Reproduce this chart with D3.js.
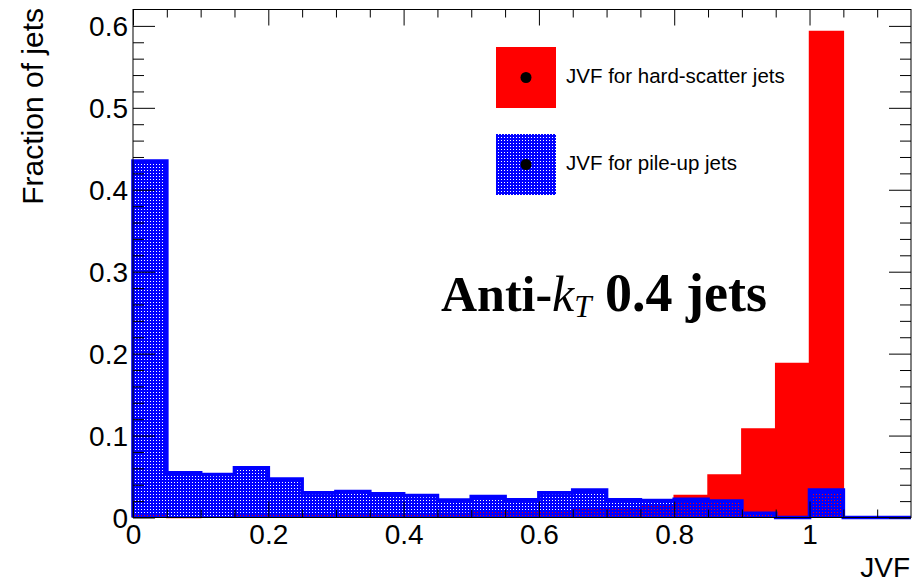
<!DOCTYPE html>
<html>
<head>
<meta charset="utf-8">
<script src="https://cdn.jsdelivr.net/npm/d3@7/dist/d3.min.js"></script>
<style>
  html, body { margin: 0; padding: 0; background: #fff; }
  svg { display: block; }
</style>
</head>
<body>
<svg id="chart" width="912" height="583"></svg>
<script>
// ---- data ----
const binEdges = [0, 0.05, 0.1, 0.15, 0.2, 0.25, 0.3, 0.35, 0.4, 0.45, 0.5, 0.55,
                  0.6, 0.65, 0.7, 0.75, 0.8, 0.85, 0.9, 0.95, 1.0, 1.05, 1.1, 1.15];
const hardScatter = [0.002, 0.000, 0.001, 0.002, 0.002, 0.002, 0.003, 0.003, 0.004, 0.005, 0.006, 0.007,
                     0.008, 0.010, 0.012, 0.015, 0.027, 0.052, 0.108, 0.188, 0.593, 0.000, 0.000];
const pileUp = [0.435, 0.0545, 0.0525, 0.0606, 0.047, 0.030, 0.0318, 0.0289, 0.0269, 0.0212, 0.0257, 0.0215,
                0.030, 0.0334, 0.0215, 0.0206, 0.0222, 0.020, 0.0052, 0.000, 0.0334, 0.000, 0.000];
const seriesNames = ["JVF for hard-scatter jets", "JVF for pile-up jets"];
const xMajorTicks = [0, 0.2, 0.4, 0.6, 0.8, 1.0];
const xTickLabels = ["0", "0.2", "0.4", "0.6", "0.8", "1"];
const xMinorTicks = [0.05, 0.1, 0.15, 0.25, 0.3, 0.35, 0.45, 0.5, 0.55, 0.65, 0.7, 0.75, 0.85, 0.9, 0.95, 1.05, 1.1];
const yMajorTicks = [0, 0.1, 0.2, 0.3, 0.4, 0.5, 0.6];
const yTickLabels = ["0", "0.1", "0.2", "0.3", "0.4", "0.5", "0.6"];
const yMinorTicks = [0.02, 0.04, 0.06, 0.08, 0.12, 0.14, 0.16, 0.18, 0.22, 0.24, 0.26, 0.28,
                     0.32, 0.34, 0.36, 0.38, 0.42, 0.44, 0.46, 0.48, 0.52, 0.54, 0.56, 0.58];
const xTitle = "JVF";
const yTitle = "Fraction of jets";

// ---- layout ----
const L = 133, R = 911, T = 9.5, B = 517.5;
const x = d3.scaleLinear().domain([0, 1.15]).range([L, R]);
const y = d3.scaleLinear().domain([0, 0.62]).range([B, T]);

const svg = d3.select("#chart");
const defs = svg.append("defs");
const pat = defs.append("pattern").attr("id", "dots")
  .attr("patternUnits", "userSpaceOnUse").attr("width", 3).attr("height", 3)
  .attr("x", L).attr("y", 0);
pat.append("path").attr("d", "M0,0H3V2H0Z M0,2H2V3H0Z").attr("fill", "#0000ff");

const clip = defs.append("clipPath").attr("id", "frameClip");
clip.append("rect").attr("x", L - 3).attr("y", T).attr("width", R - L + 3).attr("height", B - T + 4);

function histPoints(vals) {
  const pts = vals.map((v, i) => [binEdges[i], v]);
  pts.push([binEdges[binEdges.length - 1], vals[vals.length - 1]]);
  return pts;
}
const area = d3.area().curve(d3.curveStepAfter)
  .x(d => x(d[0])).y0(y(0)).y1(d => y(d[1]));
const line = d3.line().curve(d3.curveStepAfter)
  .x(d => x(d[0])).y(d => y(d[1]));

const g = svg.append("g").attr("clip-path", "url(#frameClip)");

// hard-scatter (red, solid)
const redPts = histPoints(hardScatter);
g.append("path").attr("d", area(redPts)).attr("fill", "#ff0000");
g.append("path").attr("d", line([[0, 0], ...redPts, [1.15, 0]]))
  .attr("fill", "none").attr("stroke", "#ff0000").attr("stroke-width", 1.5);

// pile-up (blue, dotted pattern)
const bluePts = histPoints(pileUp);
g.append("path").attr("d", area(bluePts)).attr("fill", "url(#dots)");
g.append("path").attr("d", line([[0, 0], ...bluePts, [1.15, 0]]))
  .attr("fill", "none").attr("stroke", "#0000ff").attr("stroke-width", 3.6)
  .attr("stroke-linejoin", "miter");

// ---- axes ----
const labelFont = "Liberation Sans, Arial, Helvetica, sans-serif";
function styleAxis(sel) {
  sel.select(".domain").remove();
  sel.selectAll(".tick line").attr("stroke", "#000").attr("stroke-width", 1);
}
// bottom
svg.append("g").attr("transform", `translate(0,${B})`)
  .call(d3.axisBottom(x).tickValues(xMajorTicks).tickSize(-16).tickPadding(7)
        .tickFormat((d, i) => xTickLabels[i]))
  .call(styleAxis)
  .call(s => s.selectAll("text").attr("font-family", labelFont).attr("font-size", 28).attr("fill", "#000"));
svg.append("g").attr("transform", `translate(0,${B})`)
  .call(d3.axisBottom(x).tickValues(xMinorTicks).tickSize(-8).tickFormat(""))
  .call(styleAxis);
// top
svg.append("g").attr("transform", `translate(0,${T})`)
  .call(d3.axisTop(x).tickValues(xMajorTicks).tickSize(-16).tickFormat(""))
  .call(styleAxis);
svg.append("g").attr("transform", `translate(0,${T})`)
  .call(d3.axisTop(x).tickValues(xMinorTicks).tickSize(-8).tickFormat(""))
  .call(styleAxis);
// left
svg.append("g").attr("transform", `translate(${L},0)`)
  .call(d3.axisLeft(y).tickValues(yMajorTicks).tickSize(-22).tickPadding(5)
        .tickFormat((d, i) => yTickLabels[i]))
  .call(styleAxis)
  .call(s => s.selectAll("text").attr("font-family", labelFont).attr("font-size", 28)
        .attr("fill", "#000").attr("dy", "0.36em"));
svg.append("g").attr("transform", `translate(${L},0)`)
  .call(d3.axisLeft(y).tickValues(yMinorTicks).tickSize(-11).tickFormat(""))
  .call(styleAxis);
// right
svg.append("g").attr("transform", `translate(${R},0)`)
  .call(d3.axisRight(y).tickValues(yMajorTicks).tickSize(-22).tickFormat(""))
  .call(styleAxis);
svg.append("g").attr("transform", `translate(${R},0)`)
  .call(d3.axisRight(y).tickValues(yMinorTicks).tickSize(-11).tickFormat(""))
  .call(styleAxis);

// frame
svg.append("rect").attr("x", L).attr("y", T).attr("width", R - L).attr("height", B - T)
  .attr("fill", "none").attr("stroke", "#000").attr("stroke-width", 1);

// titles
svg.append("text").attr("x", 910).attr("y", 577).attr("text-anchor", "end")
  .attr("font-family", labelFont).attr("font-size", 28).attr("fill", "#000").text(xTitle);
svg.append("text").attr("transform", "translate(43,8) rotate(-90)").attr("text-anchor", "end")
  .attr("font-family", labelFont).attr("font-size", 30).attr("fill", "#000").text(yTitle);

// ---- legend ----
const legendFill = ["#ff0000", "url(#dots)"];
const legendTop = [47, 134];
seriesNames.forEach((name, i) => {
  svg.append("rect").attr("x", 496).attr("y", legendTop[i]).attr("width", 60).attr("height", 61)
    .attr("fill", legendFill[i]);
  svg.append("circle").attr("cx", 526).attr("cy", legendTop[i] + 30.5).attr("r", 5.5).attr("fill", "#000");
  svg.append("text").attr("x", 566).attr("y", legendTop[i] + 36)
    .attr("font-family", labelFont).attr("font-size", 20.5).attr("fill", "#000").text(name);
});

// ---- annotation ----
const ann = svg.append("text").attr("x", 441).attr("y", 311)
  .attr("font-family", "Liberation Serif, Times New Roman, serif").attr("font-size", 50).attr("fill", "#000");
ann.append("tspan").attr("font-weight", "bold").text("Anti-");
ann.append("tspan").attr("font-style", "italic").text("k");
ann.append("tspan").attr("font-style", "italic").attr("font-size", 31).attr("dy", 6).text("T");
ann.append("tspan").attr("font-weight", "bold").attr("font-size", 54).attr("dy", -6).text(" 0.4 jets");
</script>
</body>
</html>
